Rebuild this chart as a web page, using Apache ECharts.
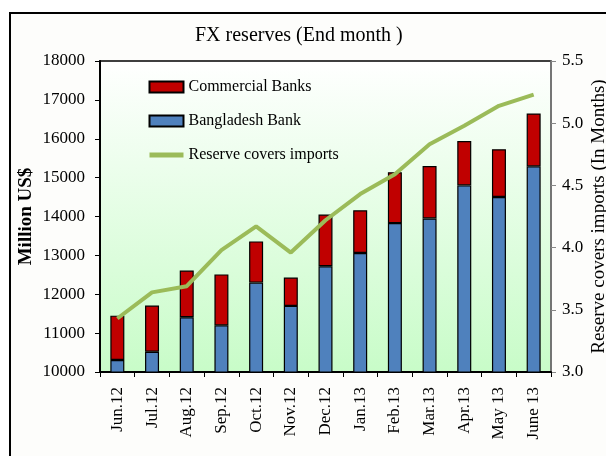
<!DOCTYPE html>
<html>
<head>
<meta charset="utf-8">
<script src="https://cdn.jsdelivr.net/npm/echarts@6/dist/echarts.min.js"></script>
<style>
  html, body { margin: 0; padding: 0; background: #fff; }
  #chart { width: 606px; height: 456px; }
</style>
</head>
<body>
<div id="chart"></div>
<script>
  const months = ['Jun.12', 'Jul.12', 'Aug.12', 'Sep.12', 'Oct.12', 'Nov.12', 'Dec.12',
    'Jan.13', 'Feb.13', 'Mar.13', 'Apr.13', 'May 13', 'June 13'];
  // million US$
  const bangladeshBank = [10310, 10520, 11410, 11200, 12300, 11700, 12720, 13060, 13830, 13950, 14800, 14500, 15290];
  const commercialBanks = [1140, 1190, 1200, 1310, 1060, 730, 1330, 1100, 1310, 1350, 1140, 1230, 1360];
  // months of import cover
  const importCover = [3.43, 3.64, 3.69, 3.98, 4.17, 3.96, 4.22, 4.43, 4.59, 4.83, 4.98, 5.14, 5.23];

  const serif = 'Liberation Serif';
  const chart = echarts.init(document.getElementById('chart'));

  chart.setOption({
    animation: false,
    textStyle: { fontFamily: serif, color: '#000' },
    graphic: [{
      type: 'rect',
      z: -10,
      shape: { x: 10, y: 13, width: 700, height: 600 },
      style: { fill: '#fdfdfb', stroke: '#000', lineWidth: 2 }
    }],
    title: {
      text: 'FX reserves (End month )',
      left: 190,
      top: 21,
      textStyle: { fontFamily: serif, fontWeight: 'normal', fontSize: 20, color: '#000' }
    },
    legend: {
      orient: 'vertical',
      left: 147,
      top: 79,
      padding: 0,
      itemWidth: 34,
      itemHeight: 11,
      itemGap: 18,
      textStyle: { fontFamily: serif, fontSize: 16, color: '#000' },
      data: [
        { name: 'Commercial Banks', icon: 'rect' },
        { name: 'Bangladesh Bank', icon: 'rect' },
        { name: 'Reserve covers imports', itemStyle: { opacity: 0 }, lineStyle: { width: 5 } }
      ]
    },
    grid: {
      left: 100, right: 55, top: 61, bottom: 84,
      outerBoundsMode: 'none',
      containLabel: false,
      show: true,
      borderWidth: 1.5,
      borderColor: '#000',
      backgroundColor: {
        type: 'linear', x: 0, y: 0, x2: 0, y2: 1,
        colorStops: [
          { offset: 0, color: '#ffffff' },
          { offset: 1, color: '#c8fcc8' }
        ]
      }
    },
    xAxis: {
      type: 'category',
      data: months,
      axisLine: { lineStyle: { color: '#000', width: 2 } },
      axisTick: { show: true, length: 5, lineStyle: { color: '#000' } },
      axisLabel: { rotate: 90, margin: 15, fontFamily: serif, fontSize: 17, color: '#000', interval: 0 }
    },
    yAxis: [{
      type: 'value',
      min: 10000, max: 18000, interval: 1000,
      name: 'Million US$',
      nameLocation: 'middle',
      nameGap: 64,
      nameMoveOverlap: false,
      nameTextStyle: { fontFamily: serif, fontWeight: 'bold', fontSize: 19, color: '#000' },
      axisLine: { show: true, lineStyle: { color: '#000', width: 2 } },
      axisTick: { show: true, length: 5, lineStyle: { color: '#000' } },
      splitLine: { show: false },
      axisLabel: {
        margin: 15, fontFamily: serif, fontSize: 17, color: '#000',
        formatter: v => String(v)
      }
    }, {
      type: 'value',
      position: 'right',
      min: 3.0, max: 5.5, interval: 0.5,
      name: 'Reserve covers imports (In Months)',
      nameLocation: 'middle',
      nameRotate: 90,
      nameGap: 39,
      nameMoveOverlap: false,
      nameTextStyle: { fontFamily: serif, fontSize: 19, color: '#000' },
      axisLine: { show: true, lineStyle: { color: '#888', width: 1.5 } },
      axisTick: { show: true, length: 5, lineStyle: { color: '#888' } },
      splitLine: { show: false },
      axisLabel: {
        margin: 11, fontFamily: serif, fontSize: 17, color: '#000',
        formatter: v => v.toFixed(1)
      }
    }],
    series: [{
      name: 'Bangladesh Bank',
      type: 'bar',
      stack: 'fx',
      barWidth: 14,
      data: bangladeshBank,
      itemStyle: { color: '#4f81bd', borderColor: '#000', borderWidth: 1.2 }
    }, {
      name: 'Commercial Banks',
      type: 'bar',
      stack: 'fx',
      barWidth: 14,
      data: commercialBanks,
      itemStyle: { color: '#c00000', borderColor: '#000', borderWidth: 1.2 }
    }, {
      name: 'Reserve covers imports',
      type: 'line',
      yAxisIndex: 1,
      data: importCover,
      symbol: 'none',
      itemStyle: { color: '#9bbb59' },
      lineStyle: { color: '#9bbb59', width: 4 }
    }]
  });
</script>
</body>
</html>
